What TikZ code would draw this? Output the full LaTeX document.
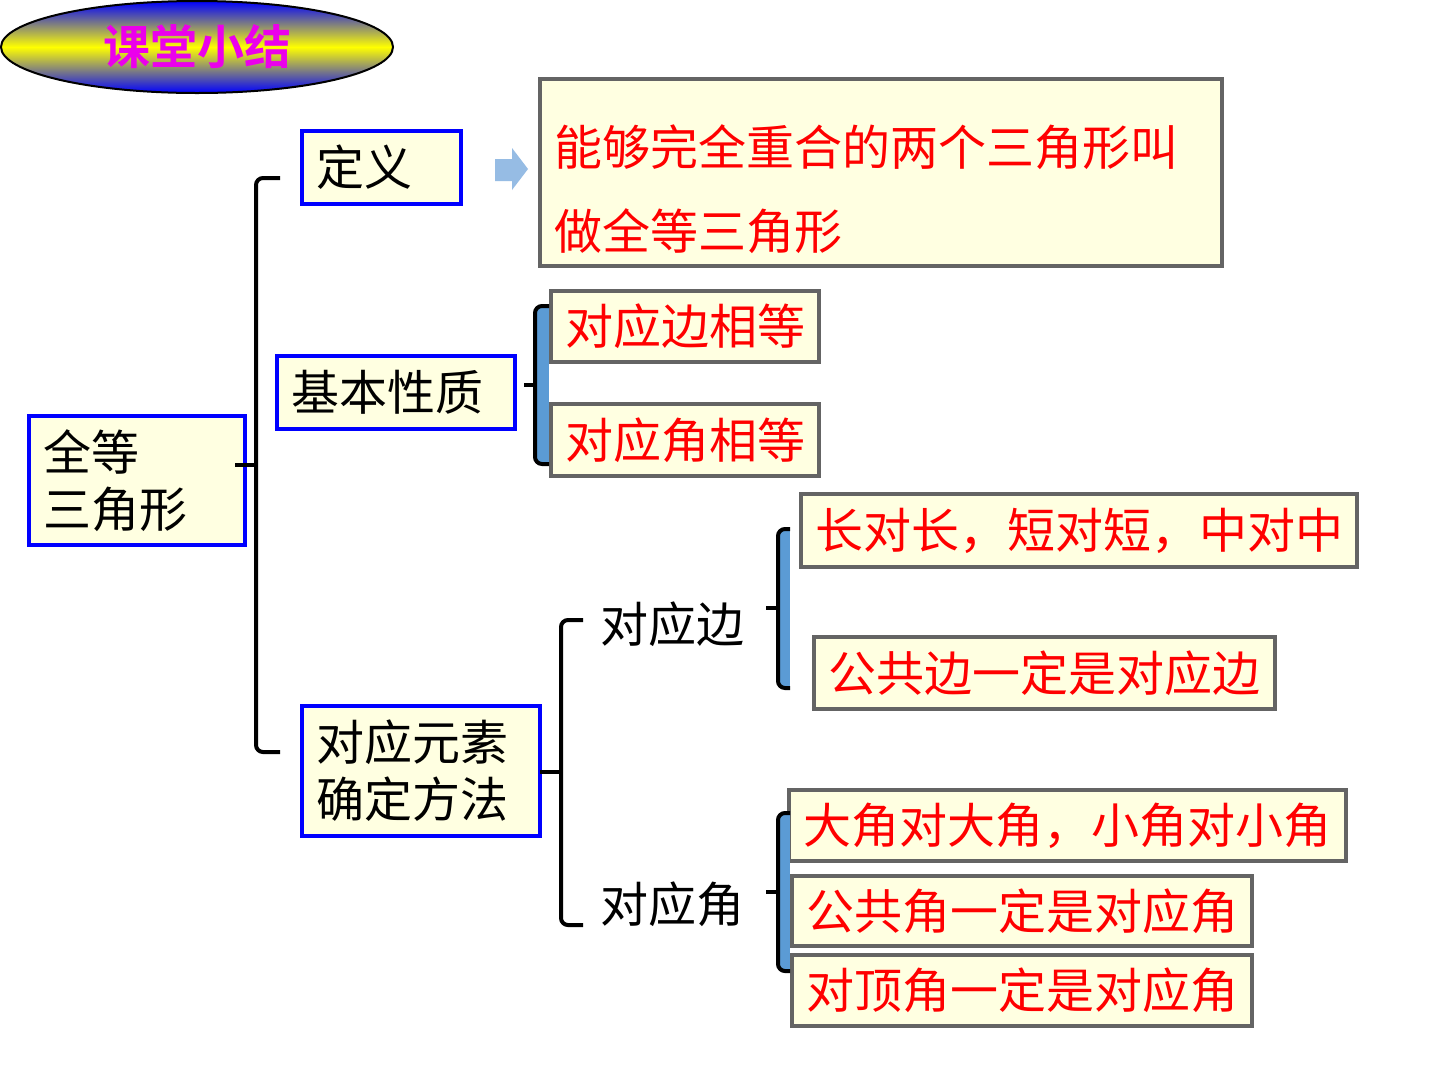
\documentclass[tikz,border=0pt]{standalone}
\usepackage{fontspec}
\setmainfont{Noto Sans CJK SC}
\newfontfamily\cjkbold{Noto Sans CJK SC Bold}
\usetikzlibrary{shapes.geometric}
\definecolor{boxfill}{RGB}{255,255,225}
\definecolor{boxgray}{RGB}{100,100,100}
\definecolor{barblue}{RGB}{91,155,213}
\definecolor{arrowblue}{RGB}{150,188,228}
\definecolor{titlemag}{RGB}{235,0,235}
\definecolor{pureblue}{RGB}{0,0,255}
\tikzset{
  txt/.style={font=\fontsize{48}{57}\selectfont},
  bluebox/.style={txt, draw=pureblue, line width=3.5pt, fill=boxfill, inner xsep=14pt, inner ysep=0pt, align=left, text=black},
  graybox/.style={txt, draw=boxgray, line width=3.5pt, fill=boxfill, inner xsep=14pt, inner ysep=0pt, align=left, text=red},
  plain/.style={txt, inner sep=0pt, anchor=west, text=black},
  brace/.style={draw=black, line width=4pt, rounded corners=7pt},
  nub/.style={draw=black, line width=4pt},
  bar/.style={fill=barblue},
}
\newcommand{\bx}[6]{% style, name, cx, cy, w, h
  \node[#1, minimum width=#5, minimum height=#6, text width=#5-28] (#2) at (#3,#4)}
\begin{document}
\begin{tikzpicture}[x=1pt,y=-1pt]
\useasboundingbox (0,0) rectangle (1440,1080);
\fill[white] (0,0) rectangle (1440,1080);

% title
\node[ellipse, draw=black, line width=2pt, minimum width=392, minimum height=92,
  top color=pureblue, bottom color=pureblue, middle color=yellow, inner sep=0pt,
  font=\cjkbold\fontsize{47}{57}\selectfont, text=titlemag] (title) at (197,47) {课堂小结};

% blue boxes
\bx{bluebox}{quan}{137}{480.5}{216}{129} {全等\\三角形};
\bx{bluebox}{dingyi}{381.5}{167.5}{159}{73} {定义};
\bx{bluebox}{jiben}{396}{392.5}{238}{73} {基本性质};
\bx{bluebox}{duiying}{421}{771}{238}{130} {对应元素\\确定方法};

% definition box
\node[graybox, font=\fontsize{48}{84}\selectfont, minimum width=682, minimum height=187, text width=654, text height=74pt] (def) at (881,172.5) {能够完全重合的两个三角形叫\\做全等三角形};

% gray boxes
\bx{graybox}{bian}{685}{326.5}{268}{71} {对应边相等};
\bx{graybox}{jiao}{685}{440}{268}{72} {对应角相等};
\bx{graybox}{c1}{1079}{530.5}{556}{73} {长对长，短对短，中对中};
\bx{graybox}{c2}{1044.5}{673}{461}{72} {公共边一定是对应边};
\bx{graybox}{a1}{1067.5}{825.5}{557}{71} {大角对大角，小角对小角};
\bx{graybox}{a2}{1022}{911}{460}{70} {公共角一定是对应角};
\bx{graybox}{a3}{1022}{990.5}{460}{71} {对顶角一定是对应角};

% plain labels
\node[plain] (dbian) at (600,624) {对应边};
\node[plain] (djiao) at (600,904) {对应角};

% arrow
\fill[arrowblue] (495,159) -- (512,159) -- (512,148) -- (528,169) -- (512,190) -- (512,181) -- (495,181) -- cycle;

% brace 1
\coordinate (b1t) at (280,178);
\coordinate (b1b) at (280,752);
\draw[brace] (b1t) -- (256,178) -- (256,752) -- (b1b);
\draw[nub] (235,465) -- (256,465);

% brace 2
\fill[bar] (537,306) rectangle (549,464);
\draw[brace] (549,306) -- (535,306) -- (535,464) -- (549,464);
\draw[nub] (524,385) -- (535,385);

% brace 3
\draw[brace] (583,620) -- (561,620) -- (561,925) -- (583,925);
\draw[nub] (540,772) -- (561,772);

% brace 4
\fill[bar] (780,529) rectangle (790,688);
\draw[brace] (790,529) -- (778,529) -- (778,688) -- (790,688);
\draw[nub] (766,608) -- (778,608);

% brace 5
\fill[bar] (780,813) rectangle (790,971);
\draw[brace] (790,813) -- (778,813) -- (778,971) -- (790,971);
\draw[nub] (766,892) -- (778,892);
\end{tikzpicture}
\end{document}
